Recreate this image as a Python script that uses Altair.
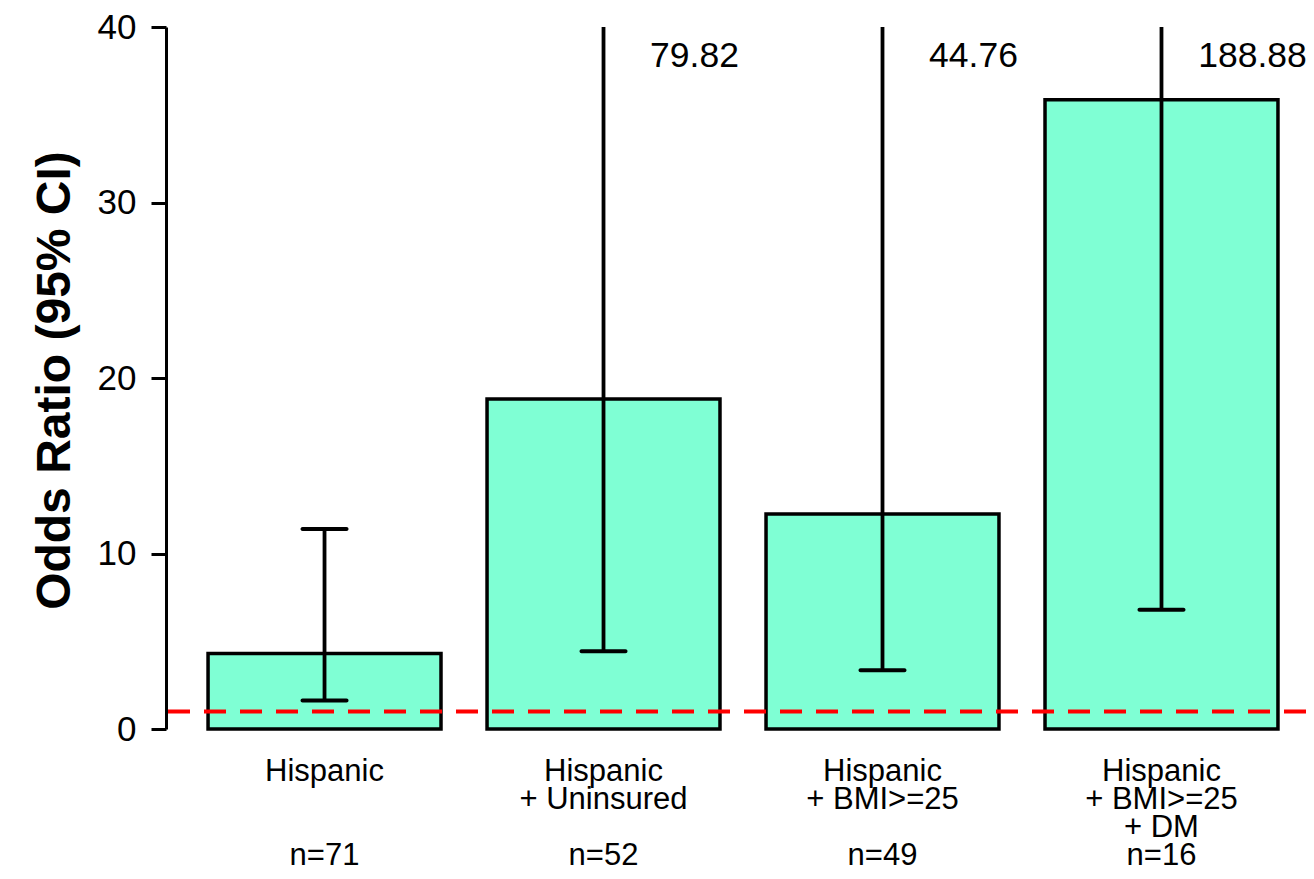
import altair as alt
import pandas as pd

# ---- data ----
categories = ["Hispanic", "Hispanic\n+ Uninsured", "Hispanic\n+ BMI>=25", "Hispanic\n+ BMI>=25\n+ DM"]
n_counts = [71, 52, 49, 16]
odds_ratio = [4.30, 18.80, 12.25, 35.85]
ci_lower = [1.62, 4.43, 3.35, 6.80]
ci_upper = [11.40, 79.82, 44.76, 188.88]
y_ticks = [0, 10, 20, 30, 40]
y_max = 40
ref_line = [1]

FONT = "Liberation Sans, Arial, Helvetica, sans-serif"
BLANK = "\u200b"  # zero-width space keeps an empty label line from collapsing

# axis label text: category lines padded to 3 lines, then the n= line
keys = []
for cat, n in zip(categories, n_counts):
    lines = cat.split("\n")
    lines += [BLANK] * (3 - len(lines))
    lines.append(f"n={n}")
    keys.append("|".join(lines))

df = pd.DataFrame({"key": keys, "or": odds_ratio, "lo": ci_lower, "hi": ci_upper})
ref_df = pd.DataFrame({"ref": ref_line})

x_scale = alt.Scale(paddingInner=0.165, paddingOuter=0.1256, align=0.6)
y_scale = alt.Scale(domain=[0, y_max], nice=False, zero=True)

x_axis = alt.Axis(
    title=None, domain=False, ticks=False,
    labelExpr="split(datum.value, '|')",
    labelFontSize=31, labelLineHeight=28, labelPadding=27,
    labelAngle=0, labelBaseline="top", labelAlign="center",
    labelLimit=0, labelOverlap=False, labelColor="black", labelFont=FONT,
)
y_axis = alt.Axis(
    values=y_ticks, grid=False,
    tickSize=15, tickWidth=3, tickColor="black",
    domainColor="black", domainWidth=3,
    labelFontSize=35, labelColor="black", labelPadding=15, labelFont=FONT,
    title="Odds Ratio (95% CI)", titleFontSize=48, titleFontWeight="bold",
    titleColor="black", titleFont=FONT, titleX=-97, titleY=353,
    titleBaseline="alphabetic", titleAngle=270, titleAlign="center",
)

X = alt.X("key:N", sort=keys, scale=x_scale, axis=x_axis)

base = alt.Chart(df).transform_calculate(hi_clip=f"min(datum.hi, {y_max})")

bars = base.mark_bar(color="#7FFFD4", stroke="black", strokeWidth=3.5, opacity=1).encode(
    x=X,
    y=alt.Y("or:Q", scale=y_scale, axis=y_axis),
)

err = base.mark_rule(color="black", strokeWidth=3.8, opacity=1).encode(
    x=X,
    y=alt.Y("lo:Q", scale=y_scale, axis=y_axis),
    y2="hi_clip:Q",
)

cap_lo = base.mark_tick(color="black", size=48, thickness=4, cornerRadius=2, opacity=1).encode(
    x=X,
    y=alt.Y("lo:Q", scale=y_scale, axis=y_axis),
)

cap_hi = base.transform_filter(f"datum.hi <= {y_max}").mark_tick(
    color="black", size=48, thickness=4, cornerRadius=2, opacity=1
).encode(
    x=X,
    y=alt.Y("hi:Q", scale=y_scale, axis=y_axis),
)

ref_rule = alt.Chart(ref_df).mark_rule(
    color="#FF0000", strokeWidth=4, strokeDash=[22, 14], opacity=1
).encode(
    y=alt.Y("ref:Q", scale=y_scale, axis=y_axis),
)

labels = base.transform_filter(f"datum.hi > {y_max}").mark_text(
    font=FONT, fontSize=35.5, color="black", align="center", baseline="middle",
    dx=91, dy=29,
).encode(
    x=X,
    y=alt.Y("hi_clip:Q", scale=y_scale, axis=y_axis),
    text=alt.Text("hi:Q", format=".2f"),
)

chart = alt.layer(bars, err, cap_lo, cap_hi, ref_rule, labels).properties(
    width=1140,
    height=702,
    autosize=alt.AutoSizeParams(type="none"),
    padding={"left": 158, "top": 19, "right": 0, "bottom": 142},
    background="white",
).configure_view(stroke=None)

chart.save("out.html", embed_options={"renderer": "svg", "actions": False})
